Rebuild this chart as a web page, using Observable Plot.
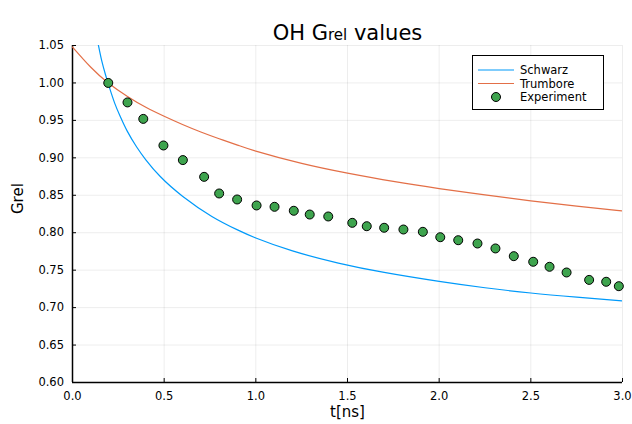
<!DOCTYPE html>
<html><head><meta charset="utf-8">
<script src="https://cdn.jsdelivr.net/npm/d3@7"></script>
<script src="https://cdn.jsdelivr.net/npm/@observablehq/plot@0.6"></script>
<style>body{margin:0;background:#fff} svg{display:block}</style>
</head><body><div id="chart"></div>
<script>
const xTicks = [0, 0.5, 1.0, 1.5, 2.0, 2.5, 3.0];
const yTicks = [0.60, 0.65, 0.70, 0.75, 0.80, 0.85, 0.90, 0.95, 1.00, 1.05];

const expT = [0.195,0.300,0.386,0.496,0.602,0.718,0.800,0.898,1.004,1.102,1.207,1.294,1.395,1.526,1.605,1.700,1.805,1.911,2.006,2.104,2.209,2.307,2.407,2.513,2.602,2.695,2.818,2.911,2.980];
const expG = [1.000,0.974,0.952,0.9165,0.897,0.8746,0.8524,0.8444,0.8364,0.8346,0.8293,0.8243,0.8217,0.8132,0.8087,0.8066,0.8043,0.8012,0.794,0.790,0.7856,0.779,0.7687,0.7612,0.7545,0.7469,0.737,0.7345,0.7286];

const schT = [0.14,0.16,0.18,0.2,0.23,0.26,0.3,0.35,0.4,0.48,0.6,0.76,0.9,1.0,1.2,1.45,1.7,2.0,2.25,2.5,2.75,3.0];
const schG = [1.052,1.029,1.011,0.995,0.973,0.9555,0.935,0.9145,0.8974,0.8747,0.8488,0.8218,0.8038,0.793,0.7757,0.7595,0.747,0.735,0.7265,0.7195,0.714,0.709];

const truT = [0,0.1,0.195,0.3,0.4,0.5,0.6,0.7,0.8,0.9,1.0,1.25,1.5,1.75,2.0,2.25,2.5,2.75,3.0];
const truG = [1.048,1.021,1.0,0.982,0.9675,0.9555,0.9445,0.9345,0.9255,0.917,0.909,0.8925,0.8795,0.8685,0.859,0.8505,0.8425,0.8355,0.829];

const seriesNames = ["Schwarz", "Trumbore", "Experiment"];
const colors = ["#009AFA", "#E36F47", "#3EA44E"];

const exp = expT.map((t, i) => ({t, g: expG[i]}));
const sch = schT.map((t, i) => ({t, g: schG[i]}));
const tru = truT.map((t, i) => ({t, g: truG[i]}));

const plot = Plot.plot({
  width: 632, height: 424,
  marginLeft: 72, marginRight: 10, marginTop: 45, marginBottom: 42,
  style: {fontFamily: "DejaVu Sans", fontSize: "11.5px", background: "#fff", color: "#000"},
  x: {domain: [0, 3]},
  y: {domain: [0.6, 1.05]},
  marks: [
    Plot.gridX(xTicks, {stroke: "#000", strokeOpacity: 0.1, strokeWidth: 0.7}),
    Plot.gridY(yTicks, {stroke: "#000", strokeOpacity: 0.1, strokeWidth: 0.7}),
    Plot.axisX(xTicks, {tickSize: 0, tickPadding: 9, tickFormat: d3.format(".1f"), label: null}),
    Plot.axisX(xTicks, {tickSize: 4, dy: -4, tickFormat: () => "", label: null}),
    Plot.axisY(yTicks, {tickSize: 0, tickPadding: 8.5, tickFormat: d3.format(".2f"), label: null}),
    Plot.axisY(yTicks, {tickSize: 4, dx: 4, tickFormat: () => "", label: null}),
    Plot.ruleX([0], {stroke: "#000", strokeWidth: 1.5}),
    Plot.ruleY([0.6], {stroke: "#000", strokeWidth: 1.5}),
    Plot.line(sch, {x: "t", y: "g", stroke: colors[0], strokeWidth: 1.2, curve: "natural", clip: true}),
    Plot.line(tru, {x: "t", y: "g", stroke: colors[1], strokeWidth: 1.2, curve: "natural", clip: true}),
    Plot.dot(exp, {x: "t", y: "g", r: 4.5, fill: colors[2], stroke: "#000", strokeWidth: 1}),
    Plot.text(["OH Grel values"], {frameAnchor: "top", dy: -20, fontSize: 21}),
    Plot.text(["t[ns]"], {frameAnchor: "bottom", dy: 34, fontSize: 15}),
    Plot.text(["Grel"], {frameAnchor: "left", dx: -54, rotate: -90, fontSize: 15})
  ]
});

document.getElementById("chart").appendChild(plot);
const svg = d3.select(plot);

// title with smaller "rel"
svg.selectAll("text").filter(function() { return this.textContent === "OH Grel values"; })
  .each(function() {
    const t = d3.select(this);
    t.text(null);
    t.append("tspan").text("OH G");
    t.append("tspan").attr("font-size", 15).text("rel");
    t.append("tspan").text(" values");
  });

// legend
const lg = svg.append("g").attr("font-family", "DejaVu Sans").attr("font-size", 11.5).attr("text-anchor", "start");
lg.append("rect").attr("x", 472.5).attr("y", 55.5).attr("width", 131).attr("height", 54)
  .attr("fill", "#fff").attr("stroke", "#000").attr("stroke-width", 1);
const rows = [70, 83.5, 97];
seriesNames.forEach((name, i) => {
  const y = rows[i];
  if (i < 2) {
    lg.append("line").attr("x1", 478).attr("x2", 514).attr("y1", y).attr("y2", y)
      .attr("stroke", colors[i]).attr("stroke-width", 1.2);
  } else {
    lg.append("circle").attr("cx", 496).attr("cy", y).attr("r", 4.5)
      .attr("fill", colors[i]).attr("stroke", "#000").attr("stroke-width", 1);
  }
  lg.append("text").attr("x", 520).attr("y", y).attr("dy", "0.35em").attr("fill", "#000")
    .attr("text-anchor", "start").text(name);
});
</script>
</body></html>
